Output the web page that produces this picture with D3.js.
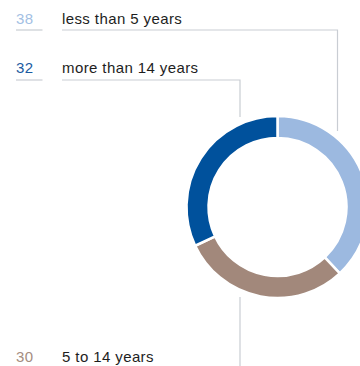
<!DOCTYPE html>
<html>
<head>
<meta charset="utf-8">
<script src="https://cdn.jsdelivr.net/npm/d3@7"></script>
<style>
  html, body { margin: 0; padding: 0; background: #ffffff; }
  svg { display: block; }
  text { font-family: "Liberation Sans", Arial, sans-serif; font-size: 15px; letter-spacing: 0.4px; }
</style>
</head>
<body>
<svg id="chart" width="360" height="366"></svg>
<script>
// Staff by length of service (share in %)
const categories = ["less than 5 years", "5 to 14 years", "more than 14 years"];
const values = [38, 30, 32];
const colors = ["#9cb9e0", "#a2887b", "#00519c"];
const labelColors = ["#a3bfe4", "#a58d80", "#1b5ba2"];

const svg = d3.select("#chart");
const cx = 277.5, cy = 207, outerR = 91, innerR = 69;
const lineColor = "#c9cdd3";

const pie = d3.pie().sort(null).value(d => d.value);
const arc = d3.arc().innerRadius(innerR).outerRadius(outerR);
const data = categories.map((c, i) => ({ name: c, value: values[i], color: colors[i], labelColor: labelColors[i] }));
const arcs = pie(data);

svg.append("g")
  .attr("transform", `translate(${cx},${cy})`)
  .selectAll("path")
  .data(arcs)
  .join("path")
  .attr("d", arc)
  .attr("fill", d => d.data.color)
  .attr("stroke", "#ffffff")
  .attr("stroke-width", 2.5);

// Labels with leader lines
const labels = [
  { idx: 0, baseline: 24, rule: 30, leader: [[62, 30], [337.5, 30], [337.5, 131]] },
  { idx: 2, baseline: 73, rule: 80, leader: [[62, 80], [240, 80], [240, 117]] },
  { idx: 1, baseline: 362, rule: 372, leader: [[240, 297], [240, 372]] }
];

const line = d3.line();
const g = svg.append("g");
labels.forEach(l => {
  const d = data[l.idx];
  g.append("path")
    .attr("d", line(l.leader))
    .attr("fill", "none")
    .attr("stroke", lineColor)
    .attr("stroke-width", 1.2);
  g.append("line")
    .attr("x1", 16).attr("x2", 42.5)
    .attr("y1", l.rule).attr("y2", l.rule)
    .attr("stroke", lineColor)
    .attr("stroke-width", 1.2);
  g.append("text")
    .attr("x", 16).attr("y", l.baseline)
    .attr("fill", d.labelColor)
    .text(d.value);
  g.append("text")
    .attr("x", 62).attr("y", l.baseline)
    .attr("fill", "#1e1e1e")
    .text(d.name);
});
</script>
</body>
</html>
